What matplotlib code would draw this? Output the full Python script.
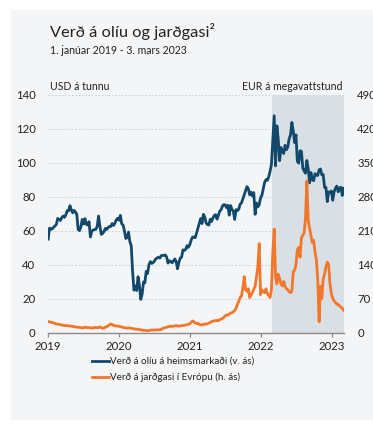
import matplotlib
matplotlib.use("Agg")
import matplotlib.pyplot as plt
from matplotlib.patches import Rectangle
import pandas as pd

# Weekly prices (Wednesdays from 2 Jan 2019), one row per month
oil_usd_bbl = [
    # 2019
    54.9, 61.4, 60.6, 61.1, 61.9,
    62.7, 63.6, 67.1, 66.4,
    65.9, 67.6, 68.5, 67.8,
    69.3, 71.7, 71.6, 74.6,
    72.2, 70.4, 71.8, 70.9, 69.5,
    60.6, 59.9, 62.1, 66.5,
    63.8, 67.0, 63.7, 63.2, 65.2,
    56.2, 59.5, 60.3, 60.5,
    60.7, 62.4, 68.5, 62.4,
    57.7, 58.3, 59.4, 61.2, 60.6,
    61.7, 62.4, 62.4, 64.1,
    63.0, 64.3, 66.2, 67.2,
    # 2020
    66.0, 68.9, 64.0, 63.2, 59.8,
    55.3, 55.8, 59.1, 53.4,
    51.1, 35.8, 24.9, 27.4,
    24.7, 32.8, 27.7, 19.5, 22.5,
    29.7, 29.2, 36.0, 34.7,
    39.8, 41.7, 40.7, 41.0,
    42.0, 43.3, 43.8, 44.3, 43.8,
    45.2, 45.4, 45.4, 45.6,
    44.4, 40.8, 42.2, 41.8, 41.0,
    42.0, 43.3, 41.7, 37.5,
    41.2, 43.8, 44.3, 48.6,
    48.3, 48.9, 51.1, 50.1, 51.6,
    # 2021
    54.3, 56.1, 56.1, 55.8,
    58.5, 61.5, 64.3, 67.0,
    64.1, 69.5, 68.0, 64.4, 63.5,
    63.2, 66.6, 65.3, 67.3,
    68.9, 69.3, 66.7, 68.9,
    71.4, 72.2, 74.4, 75.2, 75.1,
    73.4, 74.8, 69.0, 74.7,
    72.4, 71.4, 66.5, 72.3,
    71.6, 72.6, 75.5, 76.2, 78.6,
    81.1, 83.2, 85.8, 84.6,
    81.0, 82.6, 80.3, 82.3,
    69.5, 76.2, 73.9, 75.3, 79.2,
    # 2022
    80.8, 84.7, 88.4, 89.9,
    89.5, 91.6, 94.8, 99.0,
    112.9, 127.5, 98.0, 121.6, 113.5,
    101.1, 108.8, 106.8, 105.3,
    110.1, 107.5, 109.1, 114.0,
    116.3, 123.6, 118.5, 111.7, 116.3,
    100.7, 99.6, 106.9, 106.6,
    96.8, 95.0, 93.7, 101.2, 96.5,
    88.0, 94.1, 89.8, 89.3,
    93.4, 92.5, 92.4, 95.7,
    96.2, 92.7, 92.9, 85.4, 85.4,
    77.0, 82.7, 82.2, 83.3,
    # 2023
    77.8, 82.7, 84.9, 86.1,
    82.8, 85.1, 85.4, 80.6,
    84.8,
]

gas_eur_mwh = [
    # 2019
    22.5, 22.0, 21.0, 20.5, 20.0,
    18.5, 17.0, 17.5, 16.5,
    16.0, 15.5, 15.0, 14.0,
    14.5, 14.0, 13.5, 13.5,
    13.0, 12.5, 12.0, 11.5, 11.0,
    11.0, 10.5, 10.0, 9.5,
    10.0, 11.0, 10.5, 10.0, 10.0,
    9.5, 9.5, 9.0, 10.5,
    10.5, 9.5, 10.5, 11.5,
    10.0, 8.5, 9.5, 11.0, 11.5,
    14.0, 16.0, 17.5, 16.5,
    14.5, 14.0, 13.5, 13.0,
    # 2020
    13.0, 12.0, 11.5, 10.5, 10.0,
    9.5, 9.0, 9.5, 9.0,
    8.5, 8.0, 7.5, 7.0,
    6.5, 7.0, 6.0, 5.5, 5.0,
    4.5, 4.5, 4.0, 3.5,
    4.0, 4.5, 5.0, 5.0,
    5.5, 5.0, 5.5, 5.5, 5.5,
    6.0, 8.5, 9.0, 10.0,
    11.0, 11.5, 12.5, 13.0, 12.5,
    13.0, 13.5, 14.0, 13.5,
    13.0, 13.5, 14.0, 14.5,
    15.0, 15.5, 16.0, 17.0, 18.0,
    # 2021
    20.5, 24.0, 22.0, 19.5,
    18.5, 19.0, 16.5, 15.5,
    16.0, 16.5, 17.5, 17.0, 18.0,
    19.5, 20.5, 22.5, 23.0,
    24.5, 24.0, 25.0, 24.0,
    26.5, 27.5, 29.0, 31.0, 34.5,
    35.5, 36.0, 38.0, 40.0,
    40.5, 43.0, 45.0, 50.0,
    58.0, 64.0, 72.0, 75.0, 92.0,
    115.0, 88.0, 85.0, 90.0,
    72.0, 77.0, 82.0, 89.0,
    95.0, 115.0, 135.0, 183.0, 78.0,
    # 2022
    88.0, 84.0, 82.0, 90.0,
    80.0, 76.0, 72.0, 90.0,
    165.0, 213.0, 115.0, 100.0, 120.0,
    110.0, 100.0, 96.0, 105.0,
    95.0, 90.0, 88.0, 84.0,
    82.0, 85.0, 125.0, 128.0, 140.0,
    170.0, 175.0, 155.0, 195.0,
    200.0, 205.0, 235.0, 312.0, 230.0,
    215.0, 200.0, 185.0, 190.0,
    165.0, 150.0, 110.0, 22.0,
    95.0, 70.0, 110.0, 120.0, 135.0,
    145.0, 140.0, 100.0, 80.0,
    # 2023
    70.0, 65.0, 62.0, 58.0,
    58.0, 55.0, 52.0, 50.0,
    46.0,
]

dates = pd.date_range("2019-01-02", periods=len(oil_usd_bbl), freq="7D")

x_start, x_end = pd.Timestamp("2019-01-01"), pd.Timestamp("2023-03-03")
war_start = pd.Timestamp("2022-02-24")

left_ticks = [0, 20, 40, 60, 80, 100, 120, 140]
right_ticks = [0, 70, 140, 210, 280, 350, 420, 490]
year_ticks = ["2019", "2020", "2021", "2022", "2023"]

oil_label = "Verð á olíu á heimsmarkaði (v. ás)"
gas_label = "Verð á jarðgasi í Evrópu (h. ás)"

BLUE = "#12496a"
ORANGE = "#f2772a"
SHADE = "#d8e0e6"
PANEL = "#f3f5f7"
TEXT = "#222222"
FONT = "Lato"

plt.rcParams["font.family"] = [FONT, "DejaVu Sans"]

W, H = 373, 425
fig = plt.figure(figsize=(W / 100, H / 100), dpi=100, facecolor="white")

# light panel behind the whole graphic
fig.patches.append(Rectangle((11 / W, 1 - 420 / H), 1, (420 - 10) / H,
                             transform=fig.transFigure, facecolor=PANEL,
                             edgecolor="none", zorder=-10))

ax_l, ax_r, ax_top, ax_bot = 48, 344, 94.5, 332.5
ax = fig.add_axes([ax_l / W, 1 - ax_bot / H, (ax_r - ax_l) / W, (ax_bot - ax_top) / H])
ax.set_facecolor("none")
ax2 = ax.twinx()
ax2.set_facecolor("none")

ax.axvspan(war_start, x_end, color=SHADE, lw=0, zorder=1)
ax.plot(dates, oil_usd_bbl, color=BLUE, lw=2.0, zorder=3, solid_joinstyle="round")
ax2.plot(dates, gas_eur_mwh, color=ORANGE, lw=2.0, zorder=3, solid_joinstyle="round")

ax.set_xlim(x_start, x_end)
ax.set_ylim(0, 140)
ax2.set_ylim(0, 490)
ax.set_yticks(left_ticks)
ax2.set_yticks(right_ticks)

ax.set_xticks([pd.Timestamp(f"{y}-01-01") for y in year_ticks])
ax.set_xticklabels(year_ticks)

ax.set_axisbelow(True)
ax.yaxis.grid(True, color="#c9cdd1", lw=0.6, linestyle=(0, (2, 2)))
ax.xaxis.grid(False)

for a in (ax, ax2):
    for side in ("left", "right", "top", "bottom"):
        a.spines[side].set_visible(False)
ax.spines["bottom"].set_visible(True)
ax.spines["bottom"].set_color("#8a8a8a")
ax.spines["bottom"].set_linewidth(1.0)

ax.tick_params(axis="x", direction="out", length=3, width=0.9, color="#8a8a8a",
               labelsize=8.2, labelcolor=TEXT, pad=3)
ax.tick_params(axis="y", length=0, labelsize=8.2, labelcolor=TEXT, pad=9)
ax2.tick_params(axis="y", length=0, labelsize=8.2, labelcolor=TEXT, pad=9.5)

# titles and axis units
fig.text(50 / W, 1 - 37 / H, "Verð á olíu og jarðgasi²", fontsize=11.8,
         color=TEXT, ha="left", va="baseline")
fig.text(50 / W, 1 - 54.5 / H, "1. janúar 2019 - 3. mars 2023", fontsize=7.6,
         color=TEXT, ha="left", va="baseline")
fig.text(50 / W, 1 - 90.5 / H, "USD á tunnu", fontsize=7.6,
         color=TEXT, ha="left", va="baseline")
fig.text(343 / W, 1 - 90.5 / H, "EUR á megavattstund", fontsize=7.6,
         color=TEXT, ha="right", va="baseline")

handles = [plt.Line2D([], [], color=BLUE, lw=2.0),
           plt.Line2D([], [], color=ORANGE, lw=2.0)]
fig.legend(handles, [oil_label, gas_label], loc="upper left",
           bbox_to_anchor=(92 / W, 1 - 357 / H), frameon=False,
           fontsize=7.1, handlelength=1.7, handletextpad=0.1,
           labelspacing=0.7, borderaxespad=0, borderpad=0,
           labelcolor=TEXT)

fig.savefig("out.png", dpi=100, facecolor="white")
